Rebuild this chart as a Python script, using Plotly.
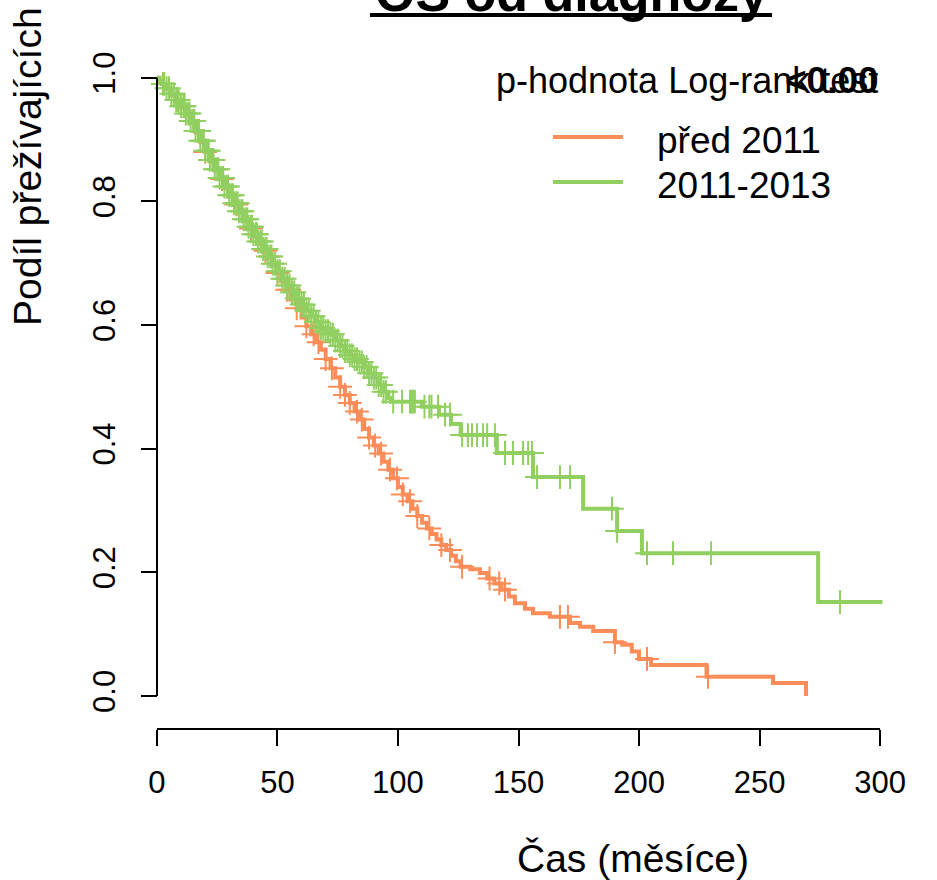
import numpy as np
import plotly.graph_objects as go

# ---- Kaplan-Meier estimates: event times (months) and survival after each step ----
pred_times = [1, 2, 4, 6, 8, 10, 12, 14, 16, 18, 20, 22, 24, 26, 28, 30, 32, 34, 36, 38,
              40, 42, 44, 46, 48, 50, 52, 54, 56, 58, 60, 62, 64, 66, 68, 70, 72, 74, 76, 78,
              80, 82, 84, 86, 88, 90, 92, 94, 96, 98, 100, 102, 104, 106, 108, 110, 112, 114,
              116, 118, 120, 122, 124, 126, 130, 134, 137, 140, 143, 146, 148.5, 152.7, 156,
              163, 171.4, 175.5, 181, 190, 193, 197, 200, 205, 228, 255.6, 269.3]
pred_surv = [0.995, 0.99, 0.982, 0.972, 0.962, 0.952, 0.94, 0.928, 0.912, 0.896, 0.88, 0.865,
             0.85, 0.836, 0.822, 0.808, 0.795, 0.782, 0.769, 0.756, 0.744, 0.732, 0.72, 0.708,
             0.697, 0.684, 0.67, 0.657, 0.642, 0.627, 0.612, 0.598, 0.585, 0.572, 0.56, 0.545,
             0.53, 0.515, 0.50, 0.487, 0.474, 0.46, 0.447, 0.432, 0.418, 0.405, 0.392, 0.379,
             0.366, 0.352, 0.338, 0.326, 0.315, 0.303, 0.291, 0.28, 0.271, 0.262, 0.253, 0.244,
             0.236, 0.227, 0.218, 0.209, 0.205, 0.199, 0.19, 0.182, 0.172, 0.161, 0.15, 0.141,
             0.134, 0.128, 0.118, 0.112, 0.105, 0.087, 0.083, 0.072, 0.06, 0.05, 0.031, 0.021, 0.0]
pred_end = 269.3
pred_censor = [20, 27, 33, 39, 45, 50, 54, 55, 58, 62, 65, 67, 70, 72.6, 76, 78, 80, 83, 85,
               88, 90.5, 93, 96.7, 99.6, 102, 105, 108, 113, 118, 121.6, 126.6, 138, 142,
               144.4, 167.2, 170.5, 190, 203.3, 228.6]

novy_times = [1, 2, 4, 6, 8, 10, 12, 14, 16, 18, 20, 22, 24, 26, 28, 30, 32, 34, 36, 38, 40,
              42, 44, 46, 48, 50, 52, 54, 56, 58, 60, 62, 64, 66, 68, 70, 72, 74, 76, 78, 80,
              82, 84, 86, 88, 90, 92, 94, 96, 97, 110, 117, 122, 126, 141, 156, 176.8, 190.9,
              201.2, 274.3]
novy_surv = [0.995, 0.99, 0.983, 0.974, 0.964, 0.954, 0.942, 0.93, 0.914, 0.898, 0.882, 0.867,
             0.852, 0.838, 0.824, 0.81, 0.797, 0.784, 0.771, 0.759, 0.747, 0.735, 0.723, 0.711,
             0.699, 0.687, 0.675, 0.664, 0.653, 0.643, 0.633, 0.623, 0.614, 0.605, 0.595, 0.59,
             0.585, 0.575, 0.566, 0.558, 0.551, 0.545, 0.54, 0.532, 0.522, 0.515, 0.503, 0.492,
             0.482, 0.476, 0.468, 0.455, 0.44, 0.422, 0.393, 0.354, 0.303, 0.267, 0.231, 0.152]
novy_end = 301
novy_censor = [2.5, 3, 4, 5, 6, 7, 8, 8.5, 9, 10, 11, 11.5, 12, 13, 13.5, 14, 15, 15.5, 16, 17,
               17.5, 18, 19, 19.5, 20, 21, 21.5, 22, 23, 23.5, 24, 25, 25.5, 26, 27, 27.5, 28,
               29, 29.5, 30, 31, 31.5, 32, 33, 33.5, 34, 35, 35.5, 36, 37, 37.5, 38, 39, 39.5,
               40, 41, 41.5, 42, 43, 43.5, 44, 45, 45.5, 46, 47, 47.5, 48, 49, 50, 51, 52, 53,
               54, 55, 56, 57, 58, 59, 60, 61, 62, 63, 64, 65, 66, 67, 68, 69, 70, 71, 72, 73,
               74, 75, 76, 77, 78, 79, 80, 81, 82, 83, 84, 85, 86, 87, 88, 89, 90, 91, 92, 93,
               94, 95, 98, 101.7, 105, 105.8, 106.2, 107, 111, 113, 113.9, 116.6, 119.5, 121.6,
               126.6, 129, 130.7, 132.8, 135.3, 137, 140.2, 144.4, 147.7, 151.9, 154, 155.6,
               157.7, 167.2, 171.4, 188.8, 190.9, 203.3, 214.1, 229.9, 283.4]

group_names = ["před 2011", "2011-2013"]
group_colors = ["#FC8D59", "#91CF60"]

x_ticks = [0, 50, 100, 150, 200, 250, 300]
y_ticks = [0.0, 0.2, 0.4, 0.6, 0.8, 1.0]

title_text = "OS od diagnózy"
x_title = "Čas (měsíce)"
y_title = "Podíl přežívajících"
test_label = "p-hodnota Log-rank test"
p_value_label = "<0.00"

FONT = "Liberation Sans, Arial, Helvetica, sans-serif"

# ---- page geometry (pixels) ----
W, H = 937, 880
ML, MR, MT, MB = 128, 28, 53, 151
PW, PH = W - ML - MR, H - MT - MB
Y_BOTTOM_PX = 720.7  # lower edge of the survival panel


def px(x):
    return (x - ML) / PW


def py(y):
    return (H - MB - y) / PH


def step_at(times, surv, t):
    times = np.asarray(times)
    surv = np.asarray(surv)
    idx = np.searchsorted(times, np.asarray(t), side="right") - 1
    return np.where(idx >= 0, surv[np.clip(idx, 0, None)], 1.0)


fig = go.Figure()

groups = [
    (pred_times, pred_surv, pred_end, pred_censor),
    (novy_times, novy_surv, novy_end, novy_censor),
]
for (times, surv, end, censor), name, color in zip(groups, group_names, group_colors):
    xs = [0] + list(times)
    ys = [1.0] + list(surv)
    if end > times[-1]:
        xs.append(end)
        ys.append(surv[-1])
    fig.add_trace(go.Scatter(
        x=xs, y=ys, mode="lines", line=dict(shape="hv", color=color, width=4),
        name=name, showlegend=False, hoverinfo="skip"))
    fig.add_trace(go.Scatter(
        x=censor, y=step_at(times, surv, censor), mode="markers",
        marker=dict(symbol="cross-thin", size=17, line=dict(color=color, width=2)),
        showlegend=False, hoverinfo="skip"))

y_axis_pos = px(157)

fig.update_layout(
    width=W, height=H,
    margin=dict(l=ML, r=MR, t=MT, b=MB, pad=0),
    paper_bgcolor="white", plot_bgcolor="white",
    font=dict(family=FONT, color="black"),
    showlegend=False,
    xaxis=dict(
        range=[-12, 312], domain=[0, 1], anchor="free", position=0,
        showgrid=False, zeroline=False, showline=False,
        ticks="outside", ticklen=16, tickwidth=2, tickcolor="black",
        tickvals=x_ticks, ticktext=[str(v) for v in x_ticks],
        tickfont=dict(size=31, family=FONT, color="black"),
        ticklabelstandoff=10,
    ),
    yaxis=dict(
        range=[-0.04, 1.04], domain=[py(Y_BOTTOM_PX), 1], anchor="free",
        position=y_axis_pos,
        showgrid=False, zeroline=False, showline=False,
        ticks="outside", ticklen=16, tickwidth=2, tickcolor="black",
        tickvals=y_ticks, ticktext=[f"{v:.1f}" for v in y_ticks],
        tickangle=-90,
        tickfont=dict(size=31, family=FONT, color="black"),
        ticklabelstandoff=14,
    ),
)

# axis lines spanning the data extent
fig.add_shape(type="line", xref="x", yref="paper", x0=0, x1=300, y0=0, y1=0,
              line=dict(color="black", width=2))
fig.add_shape(type="line", xref="paper", yref="y", x0=y_axis_pos, x1=y_axis_pos,
              y0=0, y1=1, line=dict(color="black", width=2))

# title with thick underline
fig.add_annotation(text=f"<b>{title_text}</b>", xref="paper", yref="paper",
                   x=px(571), y=py(24), xanchor="center", yanchor="bottom",
                   showarrow=False, font=dict(size=52, family=FONT, color="black"))
fig.add_shape(type="line", xref="paper", yref="paper", x0=px(370), x1=px(772),
              y0=py(15), y1=py(15), line=dict(color="black", width=4))

# axis titles
fig.add_annotation(text=x_title, xref="paper", yref="paper", x=px(633), y=py(858),
                   xanchor="center", yanchor="middle", showarrow=False,
                   font=dict(size=39, family=FONT, color="black"))
fig.add_annotation(text=y_title, xref="paper", yref="paper", x=px(27), y=py(167),
                   xanchor="center", yanchor="middle", textangle=-90, showarrow=False,
                   font=dict(size=39, family=FONT, color="black"))

# log-rank test text
fig.add_annotation(text=test_label, xref="paper", yref="paper", x=px(494), y=py(80),
                   xanchor="left", yanchor="middle", showarrow=False,
                   font=dict(size=36, family=FONT, color="black"))
fig.add_annotation(text=f"<b>{p_value_label}</b>", xref="paper", yref="paper",
                   x=px(881), y=py(80), xanchor="right", yanchor="middle", showarrow=False,
                   font=dict(size=37, family=FONT, color="black"))

# legend keys
for name, color, ly in zip(group_names, group_colors, [137, 182]):
    fig.add_shape(type="line", xref="paper", yref="paper", x0=px(553), x1=px(623),
                  y0=py(ly), y1=py(ly), line=dict(color=color, width=4))
    fig.add_annotation(text=name, xref="paper", yref="paper", x=px(655), y=py(ly + 3),
                       xanchor="left", yanchor="middle", showarrow=False,
                       font=dict(size=37, family=FONT, color="black"))

fig.write_html("out.html")
